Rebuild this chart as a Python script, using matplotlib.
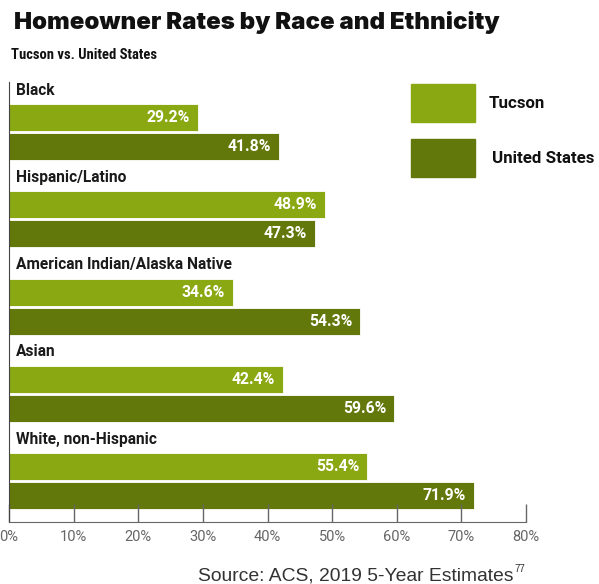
import matplotlib
matplotlib.use('Agg')
import matplotlib.pyplot as plt

# data
groups = ['Black', 'Hispanic/Latino', 'American Indian/Alaska Native', 'Asian', 'White, non-Hispanic']
tucson = [29.2, 48.9, 34.6, 42.4, 55.4]
united_states = [41.8, 47.3, 54.3, 59.6, 71.9]
xticks = [0, 10, 20, 30, 40, 50, 60, 70, 80]
xtick_labels = ['0%', '10%', '20%', '30%', '40%', '50%', '60%', '70%', '80%']
series_names = ['Tucson', 'United States']

C_TUC = '#8aa812'
C_US = '#63780a'
COND = ['Roboto Condensed', 'DejaVu Sans']
LAB = ['Roboto', 'DejaVu Sans']
HEAVY = ['Inter', 'DejaVu Sans']
SRC = ['Liberation Sans', 'DejaVu Sans']

fig = plt.figure(figsize=(5.99, 5.84), dpi=100)
W, H = 599, 584


def fx(px):
    return px / W


def fy(py):
    return 1 - py / H


ax = fig.add_axes([fx(9), fy(522), fx(526) - fx(9), fy(82) - fy(522)])

# layout in group units
t_off, u_off, bh = 0.315, 0.647, 0.309
ys = list(range(len(groups)))
ax.barh([y + t_off for y in ys], tucson, height=bh, color=C_TUC, edgecolor='white', linewidth=0.6)
ax.barh([y + u_off for y in ys], united_states, height=bh, color=C_US, edgecolor='white', linewidth=0.6)

for y, g, t, u in zip(ys, groups, tucson, united_states):
    ax.text(1.1, y, g, fontsize=11.2, fontweight='bold', family=LAB, color='#1a1a1a', va='center', ha='left')
    ax.text(t - 1.2, y + t_off, '%.1f%%' % t, fontsize=11.3, fontweight='bold', family=LAB,
            color='white', va='center', ha='right')
    ax.text(u - 1.2, y + u_off, '%.1f%%' % u, fontsize=11.3, fontweight='bold', family=LAB,
            color='white', va='center', ha='right')

ax.set_xlim(0, 80)
ax.set_ylim(4.948, -0.092)
ax.set_xticks(xticks)
ax.set_xticklabels(xtick_labels, color='#666666', fontsize=10.5, family=LAB)
ax.set_yticks([])
ax.tick_params(axis='x', direction='in', length=13, width=1, color='#666666', pad=6)
for s in ['top', 'right']:
    ax.spines[s].set_visible(False)
ax.spines['left'].set_color('#444444')
ax.spines['bottom'].set_color('#666666')

# title
fig.text(fx(14), fy(22), 'Homeowner Rates by Race and Ethnicity', fontsize=17.3, fontweight=900,
         family=HEAVY, color='#111111', va='center', ha='left')
fig.text(fx(11), fy(55), 'Tucson vs. United States', fontsize=10.5, fontweight='bold', family=COND,
         color='#111111', va='center', ha='left')

# legend
for (top, bot), name, c, tx in zip([(84, 122), (139, 177)], series_names, [C_TUC, C_US], [489, 492]):
    fig.patches.append(plt.Rectangle((fx(411), fy(bot)), fx(475) - fx(411), fy(top) - fy(bot),
                                     transform=fig.transFigure, color=c))
    fig.text(fx(tx), fy((top + bot) / 2), name, fontsize=12.2, fontweight='bold', family=LAB,
             color='#111111', va='center', ha='left')

# source
fig.text(fx(513), fy(576), 'Source: ACS, 2019 5-Year Estimates', fontsize=13.9, color='#333333',
         family=SRC, va='center', ha='right')
fig.text(fx(514), fy(569), '77', fontsize=7, color='#333333', family=SRC, va='center', ha='left')

fig.savefig('out.png', dpi=100)
